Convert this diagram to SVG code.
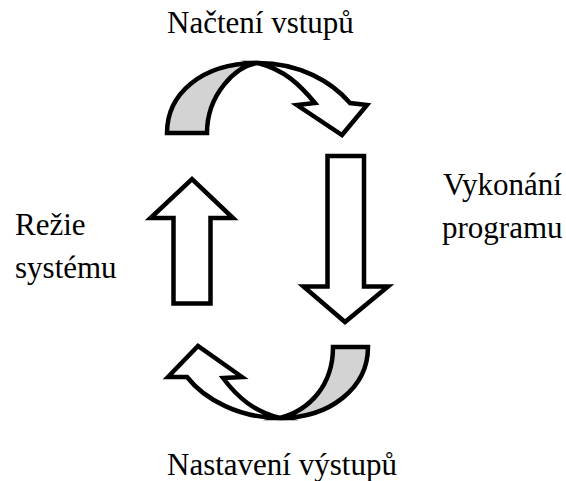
<svg xmlns="http://www.w3.org/2000/svg" width="566" height="481" viewBox="0 0 566 481">
<style>
.t{font-family:'Liberation Serif','Times New Roman',Times,'DejaVu Serif',serif;font-size:31px;fill:#000}
.s{stroke:#000;stroke-width:4.5;stroke-linejoin:miter;stroke-miterlimit:10}
.w{fill:#fff}
.g{fill:#d3d3d3}
</style>
<rect width="566" height="481" fill="#fff"/>
<g id="label-top"><text class="t" x="167" y="33">Načtení vstupů</text></g>
<g id="label-bottom"><text class="t" x="167" y="475">Nastavení výstupů</text></g>
<g id="label-left"><text class="t" x="15" y="235">Režie</text><text class="t" x="15" y="278">systému</text></g>
<g id="label-right"><text class="t" x="443" y="195">Vykonání</text><text class="t" x="442" y="238">programu</text></g>
<g id="connectors">
<g id="arrow-top">
<path class="s g" d="M167,133 C167,95 200,63 258,63 C235,66 207,95 207,133 Z"/>
<path class="s w" d="M258,63 C300,63 332,82 350,103 L367,105 L342,135 L297,105 L315,103 C300,85 285,70 258,63 Z"/>
</g>
<g id="arrow-right">
<path class="s w" d="M327.5,156 L364,156 L364,286.5 L388,286.5 L345,322 L303.5,286.5 L327.5,286.5 Z"/>
</g>
<g id="arrow-bottom">
<path class="s g" d="M368,347 C368,388 330,418 280,418 C310,410 333,385 333,347 Z"/>
<path class="s w" d="M280,418 C240,418 205,400 187,377 L168,377 L198,346 L242,377 L223,378 C238,398 255,412 280,418 Z"/>
</g>
<g id="arrow-left">
<path class="s w" d="M173.5,303.5 L210.5,303.5 L210.5,218 L233,218 L192,179 L150.5,218 L173.5,218 Z"/>
</g>
</g>
</svg>
